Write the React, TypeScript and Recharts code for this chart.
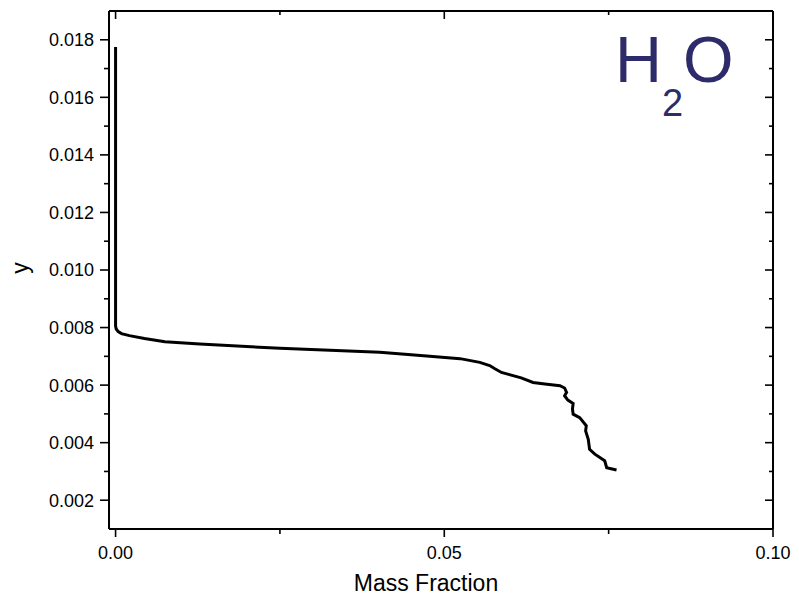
import React from 'react';
import { LineChart, Line, XAxis, YAxis, Customized } from 'recharts';

const massFraction = [
  0, 0, 0, 0, 0, 0.0001, 0.0004, 0.0009, 0.0021, 0.0044, 0.0075, 0.0128, 0.0250,
  0.0402, 0.0478, 0.0524, 0.0554, 0.0569, 0.0577, 0.0587, 0.0595, 0.0617,
  0.0635, 0.0653, 0.0676, 0.0683, 0.0686, 0.0683, 0.0688, 0.0696, 0.0695,
  0.0696, 0.0706, 0.0716, 0.0715, 0.0719, 0.0721, 0.0729, 0.0744, 0.0747, 0.0762,
];
const yValues = [
  0.01775, 0.0159, 0.0124, 0.0089, 0.00805, 0.00795, 0.00786, 0.00779, 0.00772, 0.00762,
  0.00751, 0.00743, 0.00728, 0.00714, 0.00700, 0.00692, 0.00679, 0.00668,
  0.00657, 0.00644, 0.00639, 0.00625, 0.00609, 0.00604, 0.00598, 0.0059,
  0.00575, 0.00563, 0.00548, 0.00536, 0.00517, 0.00499, 0.00487, 0.00459,
  0.00441, 0.00412, 0.00377, 0.0036, 0.00337, 0.00313, 0.00305,
];
const xTicks = [0, 0.025, 0.05, 0.075, 0.1];
const yTicks = [
  0.002, 0.003, 0.004, 0.005, 0.006, 0.007, 0.008, 0.009, 0.01, 0.011, 0.012,
  0.013, 0.014, 0.015, 0.016, 0.017, 0.018,
];
const xDomain = [-0.001, 0.1];
const yDomain = [0.001, 0.019];

const data = massFraction.map((x, i) => ({ x, y: yValues[i] }));

const FONT = '"Liberation Sans", Arial, sans-serif';
const isMajor = (v: number, step: number) => Math.abs(v / step - Math.round(v / step)) < 1e-6;

const LeftTick = (p: any) => {
  const v = p.payload.value;
  const major = isMajor(v, 0.002);
  return (
    <g>
      <line x1={p.x - (major ? 9 : 5)} x2={p.x} y1={p.y} y2={p.y} stroke="#000" strokeWidth={1.6} />
      {major && (
        <text x={p.x - 15} y={p.y} dy="0.36em" textAnchor="end" fontSize={18} fontFamily={FONT} fill="#000">
          {v.toFixed(3)}
        </text>
      )}
    </g>
  );
};
const RightTick = (p: any) => {
  const v = p.payload.value;
  const major = isMajor(v, 0.002);
  return <line x1={p.x - (major ? 8 : 4)} x2={p.x} y1={p.y} y2={p.y} stroke="#000" strokeWidth={1.6} />;
};
const BottomTick = (p: any) => {
  const v = p.payload.value;
  const major = isMajor(v, 0.05);
  return (
    <g>
      <line x1={p.x} x2={p.x} y1={p.y} y2={p.y + (major ? 8 : 5)} stroke="#000" strokeWidth={1.6} />
      {major && (
        <text x={p.x} y={p.y + 30} textAnchor="middle" fontSize={18} fontFamily={FONT} fill="#000">
          {v.toFixed(2)}
        </text>
      )}
    </g>
  );
};
const TopTick = (p: any) => {
  const v = p.payload.value;
  const major = isMajor(v, 0.05);
  return <line x1={p.x} x2={p.x} y1={p.y} y2={p.y + (major ? 8 : 4)} stroke="#000" strokeWidth={1.6} />;
};

const Labels = () => (
  <g>
    <text x={426} y={591} textAnchor="middle" fontSize={23} fontFamily={FONT} fill="#000">
      Mass Fraction
    </text>
    <text x={28} y={268} textAnchor="middle" fontSize={23} fontFamily={FONT} fill="#000" transform="rotate(-90, 28, 268)">
      y
    </text>
    <text x={615} y={82} fontSize={65} fontFamily={FONT} fill="#2E2B6B">
      H<tspan fontSize={38} dy={34}>2</tspan><tspan fontSize={65} dy={-34}>O</tspan>
    </text>
  </g>
);

export default function App() {
  return (
    <div style={{ position: 'absolute', left: 0, top: 0, width: 799, height: 595, background: '#fff' }}>
      <LineChart width={799} height={595} data={data} margin={{ top: 10, right: 25, bottom: 26, left: 0 }}>
        <XAxis
          xAxisId="b"
          dataKey="x"
          type="number"
          domain={xDomain}
          ticks={xTicks}
          interval={0}
          allowDataOverflow
          height={40}
          tickSize={0}
          tickMargin={0}
          tickLine={false}
          axisLine={{ stroke: '#000', strokeWidth: 2 }}
          tick={<BottomTick />}
        />
        <XAxis
          xAxisId="t"
          orientation="top"
          dataKey="x"
          type="number"
          domain={xDomain}
          ticks={xTicks}
          interval={0}
          allowDataOverflow
          height={1}
          tickSize={0}
          tickMargin={0}
          tickLine={false}
          axisLine={{ stroke: '#000', strokeWidth: 2 }}
          tick={<TopTick />}
        />
        <YAxis
          yAxisId="l"
          type="number"
          domain={yDomain}
          ticks={yTicks}
          interval={0}
          allowDataOverflow
          width={109}
          tickSize={0}
          tickMargin={0}
          tickLine={false}
          axisLine={{ stroke: '#000', strokeWidth: 2 }}
          tick={<LeftTick />}
        />
        <YAxis
          yAxisId="r"
          orientation="right"
          type="number"
          domain={yDomain}
          ticks={yTicks}
          interval={0}
          allowDataOverflow
          width={1}
          tickSize={0}
          tickMargin={0}
          tickLine={false}
          axisLine={{ stroke: '#000', strokeWidth: 2 }}
          tick={<RightTick />}
        />
        <Line
          xAxisId="t"
          yAxisId="r"
          dataKey="y"
          type="linear"
          stroke="none"
          strokeWidth={0}
          dot={false}
          legendType="none"
          isAnimationActive={false}
        />
        <Line
          xAxisId="b"
          yAxisId="l"
          dataKey="y"
          type="linear"
          stroke="#000"
          strokeWidth={3}
          dot={false}
          isAnimationActive={false}
        />
        <Customized component={<Labels />} />
      </LineChart>
    </div>
  );
}
